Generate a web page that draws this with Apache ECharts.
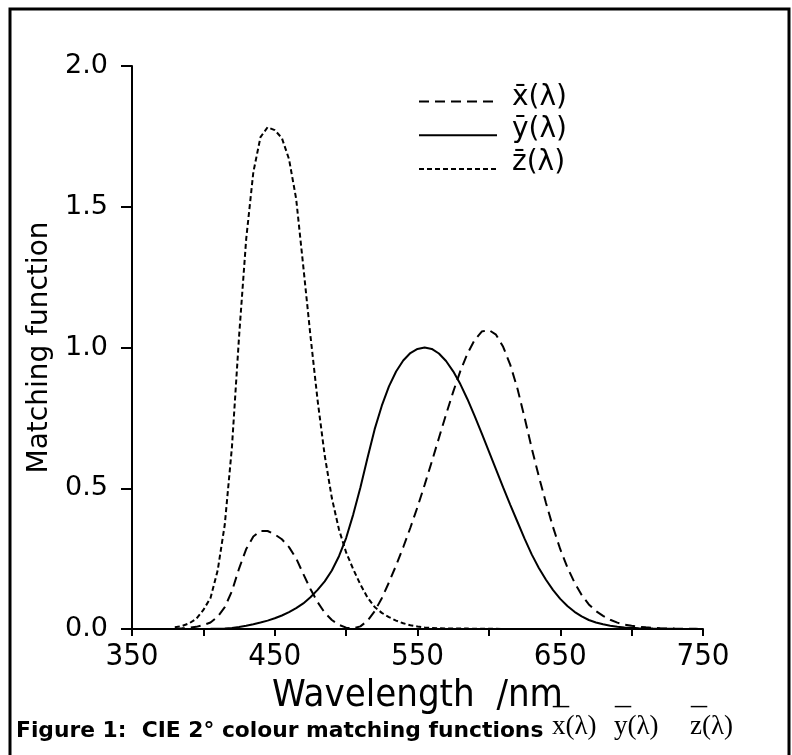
<!DOCTYPE html>
<html><head><meta charset="utf-8">
<script src="https://cdn.jsdelivr.net/npm/echarts@6/dist/echarts.min.js"></script>
<style>html,body{margin:0;padding:0;background:#fff}#c{width:792px;height:755px}</style>
</head><body><div id="c"></div>
<script>
var wavelengths = [380,385,390,395,400,405,410,415,420,425,430,435,440,445,450,455,460,465,470,475,480,485,490,495,500,505,510,515,520,525,530,535,540,545,550,555,560,565,570,575,580,585,590,595,600,605,610,615,620,625,630,635,640,645,650,655,660,665,670,675,680,685,690,695,700,705,710,715,720,725,730,735,740,745,750];
var xBar = [0.001368,0.002236,0.004243,0.00765,0.01431,0.02319,0.04351,0.07763,0.13438,0.21477,0.2839,0.3285,0.34828,0.34806,0.3362,0.3187,0.2908,0.2511,0.19536,0.1421,0.09564,0.05795,0.03201,0.0147,0.0049,0.0024,0.0093,0.0291,0.06327,0.1096,0.1655,0.22575,0.2904,0.3597,0.43345,0.51205,0.5945,0.6784,0.7621,0.8425,0.9163,0.9786,1.0263,1.0567,1.0622,1.0456,1.0026,0.9384,0.85445,0.7514,0.6424,0.5419,0.4479,0.3608,0.2835,0.2187,0.1649,0.1212,0.0874,0.0636,0.04677,0.0329,0.0227,0.01584,0.011359,0.008111,0.00579,0.004109,0.002899,0.002049,0.00144,0.001,0.00069,0.000476,0.000332];
var yBar = [0.000039,0.000064,0.00012,0.000217,0.000396,0.00064,0.00121,0.00218,0.004,0.0073,0.0116,0.01684,0.023,0.0298,0.038,0.048,0.06,0.0739,0.09098,0.1126,0.13902,0.1693,0.20802,0.2586,0.323,0.4073,0.503,0.6082,0.71,0.7932,0.862,0.91485,0.954,0.9803,0.99495,1.0,0.995,0.9786,0.952,0.9154,0.87,0.8163,0.757,0.6949,0.631,0.5668,0.503,0.4412,0.381,0.321,0.265,0.217,0.175,0.1382,0.107,0.0816,0.061,0.04458,0.032,0.0232,0.017,0.01192,0.00821,0.005723,0.004102,0.002929,0.002091,0.001484,0.001047,0.00074,0.00052,0.000361,0.000249,0.000172,0.00012];
var zBar = [0.00645,0.01055,0.02005,0.03621,0.06785,0.1102,0.2074,0.3713,0.6456,1.03905,1.3856,1.62296,1.74706,1.7826,1.77211,1.7441,1.6692,1.5281,1.28764,1.0419,0.81295,0.6162,0.46518,0.3533,0.272,0.2123,0.1582,0.1117,0.07825,0.05725,0.04216,0.02984,0.0203,0.0134,0.00875,0.00575,0.0039,0.00275,0.0021,0.0018,0.00165,0.0014,0.0011,0.001,0.0008,0.0006,0.00034,0.00024,0.00019,0.0001,0.00005,0.00003,0.00002,0.00001,0,0,0,0,0,0,0,0,0,0,0,0,0,0,0,0,0,0,0,0,0];
var seriesNames = ['x\u0304(\u03bb)', 'y\u0304(\u03bb)', 'z\u0304(\u03bb)'];
var xTickLabels = [350,450,550,650,750];
var yTickLabels = [0,0.5,1.0,1.5,2.0];
var captionText = 'Figure 1:  CIE 2\u00b0 colour matching functions';
var captionSymbols = ['x(\u03bb)', 'y(\u03bb)', 'z(\u03bb)'];
var captionBar = '\u00af';

function pairs(v){ return wavelengths.map(function(w,i){return [w,v[i]];}); }
var narrow = '"Liberation Sans Narrow","DejaVu Sans Condensed",sans-serif';
var serifStyle = {fontFamily:'Liberation Serif',fontWeight:'normal',fontSize:27,color:'#000'};
var barStyle = {fontFamily:'Liberation Serif',fontWeight:'normal',fontSize:32,color:'#000'};
var symLeft = [552,614,690];
var titles = [{text:captionText,left:16,top:720,padding:0,
  textStyle:{fontFamily:'DejaVu Sans',fontWeight:'bold',fontSize:21.8,color:'#000'}}];
captionSymbols.forEach(function(s,i){
  titles.push({text:s,left:symLeft[i],top:713,padding:0,textStyle:serifStyle});
  titles.push({text:captionBar,left:symLeft[i]+1,top:706,padding:0,textStyle:barStyle});
});
var chart = echarts.init(document.getElementById('c'));
chart.setOption({
  backgroundColor:'#fff',
  animation:false,
  grid:{left:132,right:89,top:66,bottom:126,containLabel:false},
  xAxis:{type:'value',min:350,max:750,interval:50,
    name:'Wavelength  /nm',nameLocation:'middle',nameGap:35,
    nameTextStyle:{fontFamily:narrow,fontSize:38,color:'#000'},
    axisLine:{lineStyle:{color:'#000',width:2}},
    axisTick:{inside:false,length:7,lineStyle:{color:'#000',width:2}},
    splitLine:{show:false},
    axisLabel:{margin:12,fontFamily:narrow,fontSize:31,color:'#000',
      formatter:function(v){return xTickLabels.indexOf(v)>=0?String(v):'';}}
  },
  yAxis:{type:'value',min:0,max:2,interval:0.5,
    name:'Matching function',nameLocation:'middle',nameGap:76,
    nameTextStyle:{fontFamily:'DejaVu Sans',fontSize:28,color:'#000'},
    axisLine:{show:true,lineStyle:{color:'#000',width:2}},
    axisTick:{show:true,inside:false,length:11,lineStyle:{color:'#000',width:2}},
    splitLine:{show:false},
    axisLabel:{margin:24,fontFamily:'DejaVu Sans',fontSize:27,color:'#000',
      formatter:function(v){return yTickLabels.indexOf(v)>=0?v.toFixed(1):'';}}
  },
  legend:[
    {orient:'vertical',left:418,top:96,padding:0,itemWidth:78,itemHeight:14,itemGap:22.5,
      data:seriesNames,formatter:function(){return '';},
      itemStyle:{opacity:0,color:'rgba(0,0,0,0)',borderWidth:0},
      textStyle:{fontSize:1,lineHeight:1}},
    {orient:'vertical',left:507,top:81,padding:0,itemWidth:0,itemHeight:0,itemGap:0,
      data:seriesNames,icon:'none',
      textStyle:{fontFamily:'DejaVu Sans',fontSize:28,color:'#000',lineHeight:32.5}}
  ],
  title:titles,
  graphic:[{type:'rect',shape:{x:10,y:9,width:779,height:760},
    style:{fill:'none',stroke:'#000',lineWidth:3},silent:true}],
  series:[
    {name:seriesNames[0],type:'line',data:pairs(xBar),symbol:'none',
      lineStyle:{color:'#000',width:2,type:[10,6]},itemStyle:{color:'#000'}},
    {name:seriesNames[1],type:'line',data:pairs(yBar),symbol:'none',
      lineStyle:{color:'#000',width:2,type:'solid'},itemStyle:{color:'#000'}},
    {name:seriesNames[2],type:'line',data:pairs(zBar),symbol:'none',
      lineStyle:{color:'#000',width:2,type:[5,3]},itemStyle:{color:'#000'}}
  ]
});
</script></body></html>
